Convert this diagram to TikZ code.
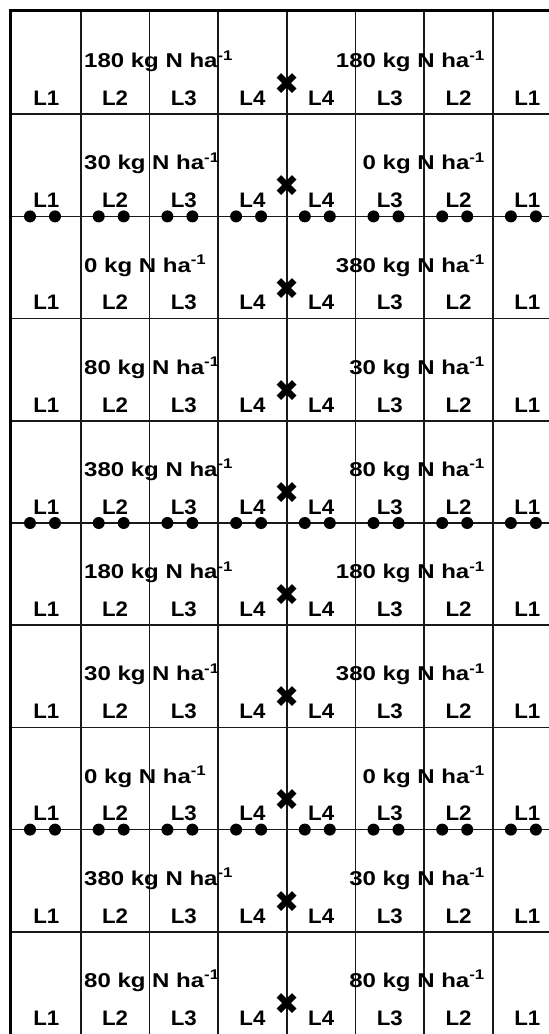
\documentclass[tikz,border=0pt]{standalone}
\usepackage{fontspec}
\setmainfont{Liberation Sans}
\newfontfamily\ancha[FakeStretch=1.2]{Liberation Sans}
\newfontfamily\media[FakeStretch=1.06]{Liberation Sans}
\newfontfamily\simbolos{DejaVu Sans}
\usepackage{tikz}
\usetikzlibrary{positioning}

\begin{document}
\begin{tikzpicture}[
    x=1pt, y=-1pt,
    every node/.style={font=\media\bfseries\fontsize{21}{21}\selectfont, inner sep=0pt},
    linea/.style={draw=black!90, line width=1.6pt},
    borde/.style={draw=black, line width=3pt},
    dosis/.style={font=\ancha\bfseries\fontsize{20}{20}\selectfont},
    punto/.style={circle, fill=black, minimum size=12pt, inner sep=0pt},
    cruz/.style={font=\simbolos\fontsize{30}{30}\selectfont}
]
\clip (0,0) rectangle (549,1034);
\fill[white] (0,0) rectangle (549,1034);

% rejilla de parcelas
\foreach \c in {1,...,7}
    \draw[linea] ({12+68.7*\c},12) -- ({12+68.7*\c},1034);
\foreach \r in {1,...,9}
    \draw[linea] (12,{12+102.2*\r}) -- (549,{12+102.2*\r});
\draw[borde] (10.5,1034) -- (10.5,10.5) -- (549,10.5);

% etiquetas de linea
\foreach \r in {1,...,10}
    \foreach \c/\n in {1/1, 2/2, 3/3, 4/4, 5/4, 6/3, 7/2, 8/1}
        \node (l-\r-\c) at ({12+68.7*(\c-0.5)},{12+102.2*\r-16}) {L\n};

% dosis de nitrogeno
\foreach \r/\izq/\der in {1/180/180, 2/30/0, 3/0/380, 4/80/30, 5/380/80,
                           6/180/180, 7/30/380, 8/0/0, 9/380/30, 10/80/80} {
    \node[dosis, anchor=west] (dosis-izq-\r) at (84,{12+102.2*\r-53}) {\izq{} kg N ha\textsuperscript{-1}};
    \node[dosis, anchor=east] (dosis-der-\r) at (485,{12+102.2*\r-53}) {\der{} kg N ha\textsuperscript{-1}};
    \node[cruz] (cruz-\r) at (286.8,{12+102.2*\r-30}) {✖};
}

% puntos de muestreo
\foreach \r in {2,5,8}
    \foreach \c in {1,...,8} {
        \node[punto] (p-\r-\c-a) at ({12+68.7*(\c-1)+18},{12+102.2*\r}) {};
        \node[punto] (p-\r-\c-b) at ({12+68.7*(\c-1)+43},{12+102.2*\r}) {};
    }

\end{tikzpicture}
\end{document}
